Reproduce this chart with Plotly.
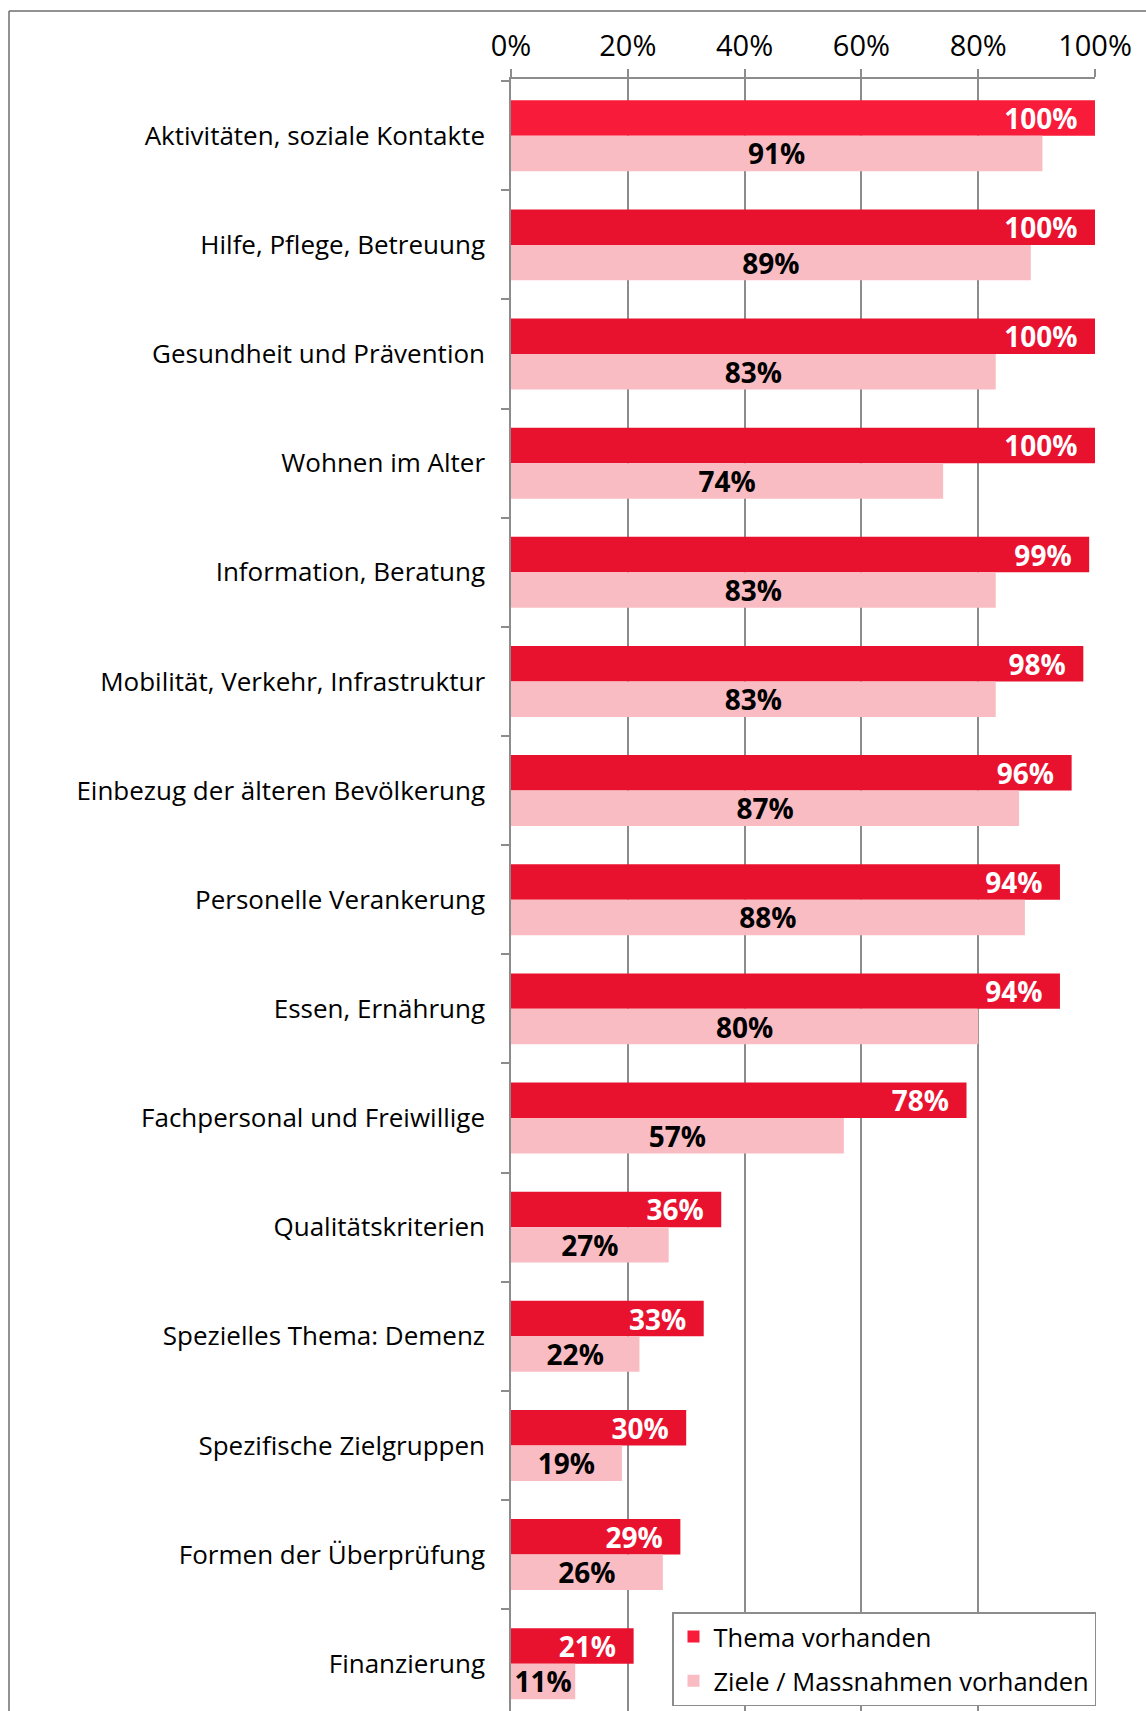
import plotly.graph_objects as go

categories = [
    "Aktivitäten, soziale Kontakte",
    "Hilfe, Pflege, Betreuung",
    "Gesundheit und Prävention",
    "Wohnen im Alter",
    "Information, Beratung",
    "Mobilität, Verkehr, Infrastruktur",
    "Einbezug der älteren Bevölkerung",
    "Personelle Verankerung",
    "Essen, Ernährung",
    "Fachpersonal und Freiwillige",
    "Qualitätskriterien",
    "Spezielles Thema: Demenz",
    "Spezifische Zielgruppen",
    "Formen der Überprüfung",
    "Finanzierung",
]
thema = [100, 100, 100, 100, 99, 98, 96, 94, 94, 78, 36, 33, 30, 29, 21]
ziele = [91, 89, 83, 74, 83, 83, 87, 88, 80, 57, 27, 22, 19, 26, 11]
x_ticks = [0, 20, 40, 60, 80, 100]
x_tick_labels = ["0%", "20%", "40%", "60%", "80%", "100%"]

W, H = 1146, 1711
L, R, T = 511, 1095, 79
FONT = "Open Sans"
GRID = "#8c8c8c"

dark_colors = ["#F81B3A"] + ["#E8122F"] * (len(categories) - 1)

fig = go.Figure()
fig.add_trace(go.Bar(
    y=categories, x=thema, orientation="h", name="Thema vorhanden",
    legendgroup="a",
    marker=dict(color=dark_colors, line=dict(width=0)),
    text=[f"{v}%\u00a0\u00a0" for v in thema],
    textposition="inside", insidetextanchor="end",
    textfont=dict(family=FONT, size=28, color="white", weight="bold"),
))
fig.add_trace(go.Bar(
    y=categories, x=ziele, orientation="h", name="Ziele / Massnahmen vorhanden",
    legendgroup="b",
    marker=dict(color="#F9BCC3", line=dict(width=0)),
    text=[f"{v}%" for v in ziele],
    textposition="inside", insidetextanchor="middle",
    textfont=dict(family=FONT, size=28, color="black", weight="bold"),
))

plot_h = H - T
n_visible = plot_h / 109.14
off = 0.52

fig.update_layout(
    width=W, height=H,
    margin=dict(l=L, r=W - R, t=T, b=0, pad=0),
    paper_bgcolor="white", plot_bgcolor="white",
    barmode="group", bargap=0.35, bargroupgap=0,
    uniformtext=dict(minsize=28, mode="show"),
    font=dict(family=FONT, size=26, color="black"),
    xaxis=dict(
        side="top", range=[0, 100], tickvals=x_ticks, ticktext=x_tick_labels,
        showgrid=True, gridcolor=GRID, gridwidth=1.5,
        showline=True, linecolor=GRID, linewidth=1.5,
        ticks="outside", ticklen=8, tickcolor=GRID, tickwidth=1.5,
        ticklabelstandoff=2,
        tickfont=dict(family=FONT, size=29, color="black"),
        zeroline=False, fixedrange=True,
    ),
    yaxis=dict(
        type="category", categoryorder="array", categoryarray=categories,
        range=[n_visible - off, -off],
        showline=True, linecolor=GRID, linewidth=1.5,
        ticks="outside", ticklen=8, tickcolor=GRID, tickwidth=1.5,
        tickson="boundaries", ticklabelstandoff=19,
        tickfont=dict(family=FONT, size=26, color="black"),
        showgrid=False, zeroline=False, fixedrange=True,
    ),
    legend=dict(
        x=(672 - L) / (R - L), y=1 - (1612 - T) / plot_h,
        xanchor="left", yanchor="top",
        bgcolor="white", bordercolor=GRID, borderwidth=1.5,
        font=dict(family=FONT, size=25.5, color="black"),
        traceorder="grouped", itemsizing="constant",
        tracegroupgap=8, itemwidth=30,
    ),
    showlegend=True,
)

# outer frame (left and top edges)
px2x = lambda p: (p - L) / (R - L)
py2y = lambda p: 1 - (p - T) / plot_h
fig.add_shape(type="line", xref="paper", yref="paper",
              x0=px2x(9), x1=px2x(9), y0=py2y(11), y1=py2y(H + 5),
              line=dict(color="#6e6e6e", width=1.5))
fig.add_shape(type="line", xref="paper", yref="paper",
              x0=px2x(9), x1=px2x(W + 5), y0=py2y(11), y1=py2y(11),
              line=dict(color="#6e6e6e", width=1.5))

fig.write_html("out.html")
